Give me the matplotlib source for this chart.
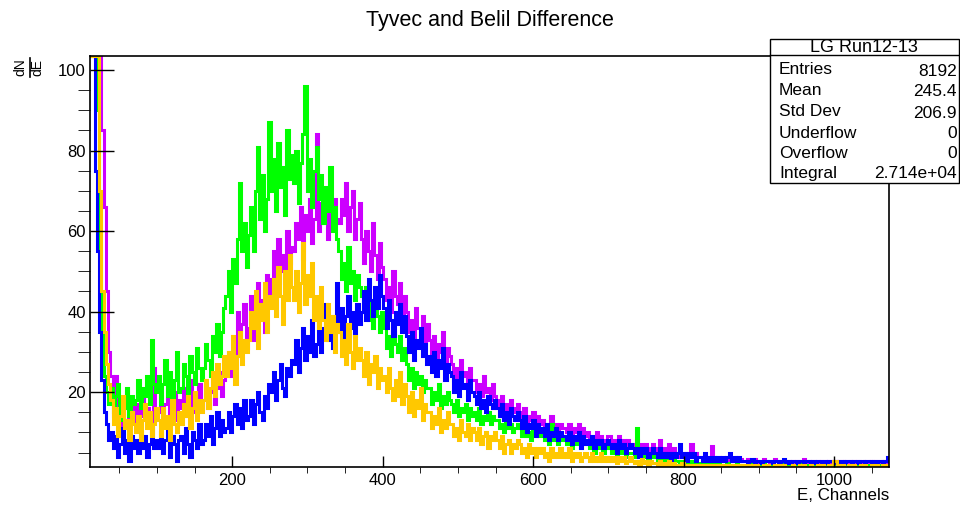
import numpy as np
import matplotlib
matplotlib.use('Agg')
import matplotlib.pyplot as plt
from matplotlib.patches import Rectangle
from matplotlib.lines import Line2D

plt.rcParams['font.family'] = ['Liberation Sans', 'DejaVu Sans']

# histogram binning (channels), 3 channels per bin starting at channel 11
bin_lo = 11
bin_width = 3

# counts per bin (one row = 30 channels)
violet = [170, 160, 150, 140, 120, 85, 66, 45, 30, 24,
          14, 24, 13, 17, 11, 16, 20, 12, 15, 18,
          12, 17, 14, 19, 13, 16, 15, 12, 26, 15,
          15, 19, 13, 17, 22, 14, 16, 20, 13, 18,
          16, 21, 14, 18, 23, 15, 19, 17, 22, 16,
          18, 22, 16, 20, 24, 17, 21, 25, 19, 23,
          26, 30, 24, 34, 29, 40, 33, 37, 42, 31,
          36, 44, 33, 41, 47, 38, 43, 35, 49, 42,
          48, 55, 46, 58, 50, 54, 47, 60, 52, 56,
          55, 62, 58, 66, 53, 64, 60, 68, 57, 63,
          84, 60, 67, 62, 70, 58, 65, 61, 68, 63,
          62, 68, 64, 72, 60, 66, 70, 58, 63, 67,
          58, 52, 60, 55, 50, 62, 54, 48, 57, 51,
          48, 43, 46, 40, 50, 44, 42, 47, 39, 44,
          40, 35, 38, 33, 41, 36, 34, 39, 32, 37,
          33, 29, 34, 28, 32, 30, 35, 27, 31, 29,
          27, 23, 26, 22, 28, 24, 25, 21, 26, 23,
          23, 20, 22, 19, 24, 20, 21, 18, 22, 19,
          18, 16, 19, 15, 17, 14, 18, 16, 15, 17,
          15, 13, 16, 12, 14, 13, 15, 11, 14, 12,
          13, 11, 12, 10, 14, 11, 12, 9, 12, 11,
          11, 10, 12, 9, 11, 10, 12, 8, 11, 9,
          10, 8, 9, 7, 10, 8, 9, 7, 8, 9,
          9, 7, 8, 6, 9, 7, 8, 6, 8, 7,
          7, 6, 8, 5, 7, 6, 7, 5, 6, 7,
          6, 5, 8, 5, 6, 5, 7, 4, 6, 5,
          5, 4, 5, 4, 5, 4, 7, 4, 5, 4,
          4, 3, 4, 3, 4, 6.5, 4, 3, 4, 3,
          3.5, 3, 4, 3, 3.5, 3, 4, 3, 3.5, 3,
          3, 3.5, 2.5, 3, 3.5, 3, 2.5, 3, 3.5, 3,
          3, 2.5, 3, 3.5, 3, 2.5, 3, 3, 2.5, 3,
          3, 3, 2.5, 3, 2.5, 3, 3.5, 2.5, 3, 3,
          2.5, 3, 3, 2.5, 3, 3, 2.5, 3, 2.5, 3,
          3, 2.5, 3, 2.5, 3, 3, 2.5, 3, 3, 2.5,
          3, 2.5, 2.5, 3, 3, 2.5, 3, 2.5, 3, 2.5,
          2.5, 3, 2.5, 3]

green = [160, 150, 130, 90, 55, 35, 24, 20, 17, 21,
         15, 19, 22, 13, 18, 16, 21, 14, 19, 17,
         18, 23, 16, 21, 19, 24, 17, 33, 22, 20,
         24, 17, 22, 28, 19, 25, 16, 23, 30, 20,
         21, 27, 24, 19, 29, 25, 22, 31, 26, 23,
         26, 32, 28, 24, 34, 30, 37, 29, 35, 41,
         44, 50, 40, 53, 47, 58, 72, 55, 62, 51,
         59, 66, 55, 70, 81, 63, 74, 60, 68, 87,
         70, 78, 65, 82, 71, 76, 64, 85, 73, 79,
         72, 80, 67, 77, 84, 96, 70, 78, 66, 75,
         81, 68, 74, 62, 71, 65, 76, 60, 66, 58,
         55, 48, 52, 45, 56, 47, 50, 43, 49, 46,
         44, 40, 46, 38, 43, 36, 41, 39, 35, 40,
         36, 31, 34, 29, 35, 32, 30, 34, 28, 31,
         27, 23, 26, 21, 25, 22, 24, 20, 23, 21,
         21, 17, 20, 18, 22, 16, 19, 17, 20, 18,
         17, 15, 18, 14, 16, 15, 17, 13, 16, 14,
         15, 13, 16, 12, 14, 13, 15, 12, 14, 13,
         13, 11, 12, 10, 13, 11, 12, 10, 11, 12,
         11, 9, 12, 9, 10, 8, 11, 9, 10, 9,
         10, 8, 9, 7, 12, 8, 9, 7, 8, 9,
         8, 7, 9, 6, 8, 7, 8, 6, 7, 8,
         7, 6, 7, 5, 8, 6, 7, 5, 6, 7,
         6, 5, 6, 4, 6, 5, 6, 4, 5, 5,
         5, 4, 11, 4, 5, 4, 5, 3, 4, 5,
         4, 3, 4, 3, 5, 3, 4, 3, 4, 3,
         3, 2.5, 3, 2, 3, 2.5, 3, 2, 3, 2.5,
         2.5, 2, 3, 2, 2.5, 2, 2.5, 2, 2.5, 2,
         2, 2, 2.5, 2, 2, 2, 2.5, 2, 2, 2,
         2, 2, 2, 2.5, 2, 2, 2, 2, 2.5, 2,
         2, 2, 2.5, 2, 2, 2, 2, 2.5, 2, 2,
         2, 2, 2, 2, 2.5, 2, 2, 2, 2, 2,
         2, 2, 2, 2, 2, 2, 2, 2, 2, 2,
         2, 2, 2, 2, 2, 2, 2, 2, 2, 2,
         2, 2, 2, 2, 2, 2, 2, 2, 2, 2,
         2, 2, 2, 2]

blue = [150, 140, 75, 55, 35, 23, 15, 12, 8, 10,
        6, 9, 4, 7, 11, 5, 8, 3, 9, 6,
        8, 5, 10, 6, 9, 4, 7, 11, 6, 8,
        6, 10, 5, 8, 11, 4, 9, 7, 3, 8,
        9, 5, 11, 7, 4, 10, 8, 6, 12, 7,
        8, 12, 9, 14, 7, 11, 15, 9, 13, 10,
        11, 15, 10, 14, 17, 12, 16, 11, 18, 13,
        14, 18, 12, 17, 20, 15, 13, 19, 16, 22,
        20, 25, 18, 23, 27, 21, 19, 26, 24, 28,
        27, 33, 25, 31, 36, 28, 34, 30, 38, 29,
        32, 38, 30, 36, 42, 33, 39, 31, 37, 47,
        35, 41, 33, 39, 44, 36, 40, 34, 42, 37,
        40, 45, 38, 48, 43, 39, 46, 41, 49, 44,
        41, 36, 43, 38, 34, 40, 37, 42, 35, 39,
        34, 30, 35, 28, 33, 31, 36, 29, 32, 27,
        29, 25, 30, 24, 28, 26, 31, 23, 27, 25,
        24, 20, 23, 19, 25, 21, 22, 18, 23, 20,
        19, 17, 20, 16, 18, 15, 19, 17, 16, 18,
        16, 14, 17, 13, 15, 12, 16, 14, 13, 15,
        13, 11, 14, 10, 12, 11, 13, 9, 12, 10,
        11, 9, 12, 8, 10, 9, 11, 8, 10, 9,
        9, 8, 10, 7, 9, 8, 10, 6, 9, 7,
        8, 7, 9, 6, 8, 7, 8, 6, 7, 8,
        7, 6, 7, 5, 8, 6, 7, 5, 6, 7,
        6, 5, 6, 4, 6, 5, 6, 4, 5, 6,
        5, 4, 6, 4, 5, 4, 5, 3, 5, 4,
        5, 7, 4, 5, 3, 5, 4, 5, 3, 4,
        4, 3, 5, 3, 4, 3, 4, 3, 4, 3,
        4, 3, 4, 5, 3, 4, 3, 4, 3, 3,
        3, 2.5, 3, 3.5, 2.5, 3, 3, 2.5, 3, 3,
        3, 3, 2.5, 3, 3, 2.5, 3, 3.5, 2.5, 3,
        2.5, 3, 3, 2.5, 3, 3, 2.5, 3, 3, 2.5,
        3, 2.5, 3, 3, 2.5, 3, 2.5, 3, 3, 2.5,
        3, 3, 2.5, 3, 2.5, 3, 3, 2.5, 3, 3,
        2.5, 3, 3, 2.5, 3, 3, 2.5, 3, 2.5, 3,
        3, 2.5, 3, 4]

orange = [170, 160, 150, 110, 70, 45, 35, 27, 22, 18,
          12, 16, 9, 14, 19, 11, 13, 8, 15, 12,
          10, 14, 8, 13, 17, 11, 15, 9, 12, 16,
          13, 9, 16, 11, 14, 8, 18, 12, 10, 15,
          12, 17, 14, 19, 11, 16, 20, 13, 18, 15,
          18, 23, 16, 21, 25, 19, 27, 22, 24, 29,
          24, 30, 26, 34, 22, 29, 35, 27, 33, 30,
          33, 40, 36, 45, 31, 42, 38, 47, 35, 44,
          41, 48, 39, 51, 44, 37, 50, 43, 54, 46,
          43, 50, 40, 47, 57, 42, 49, 44, 52, 38,
          44, 36, 46, 38, 33, 42, 35, 39, 30, 37,
          35, 29, 33, 27, 37, 30, 26, 34, 28, 31,
          28, 24, 30, 22, 27, 25, 29, 21, 26, 23,
          24, 20, 26, 21, 18, 23, 19, 25, 17, 22,
          19, 15, 20, 14, 18, 16, 21, 13, 17, 15,
          15, 11, 14, 12, 16, 10, 13, 11, 15, 12,
          12, 9, 11, 8, 13, 10, 9, 12, 8, 11,
          10, 8, 11, 7, 9, 10, 6, 9, 8, 10,
          8, 6, 9, 5, 7, 8, 5, 7, 6, 8,
          7, 5, 6, 4, 7, 5, 6, 4, 6, 5,
          6, 4, 5, 3, 6, 4, 5, 4, 6, 4,
          5, 4, 6, 3, 5, 4, 5, 3, 4, 5,
          4, 3, 5, 3, 4, 3, 5, 3, 4, 3,
          4, 3, 4, 2.5, 4, 3, 4, 2.5, 3, 4,
          3, 2.5, 3, 2, 3.5, 2.5, 3, 2, 3, 2.5,
          2.5, 2, 3, 2, 2.5, 2, 3, 2, 2.5, 2,
          2, 1.5, 2.5, 2, 2, 1.5, 2, 2, 1.5, 2,
          2, 1.5, 2, 1.5, 2, 2, 1.5, 2, 1.5, 2,
          2, 1.5, 2, 1.5, 2, 1.5, 2, 2, 1.5, 2,
          1.5, 2, 1.5, 2, 1.5, 2, 1.5, 1.5, 2, 1.5,
          2, 1.5, 1.5, 2, 1.5, 2, 1.5, 2, 1.5, 1.5,
          1.5, 2, 1.5, 1.5, 2, 1.5, 2, 1.5, 1.5, 2,
          1.5, 1.5, 2, 1.5, 2, 1.5, 1.5, 2, 1.5, 3,
          3, 2, 1.5, 2, 1.5, 1.5, 2, 1.5, 2, 1.5,
          1.5, 2, 1.5, 2, 1.5, 1.5, 2, 1.5, 2, 1.5,
          1.5, 2, 1.5, 2]

stat_names = ['Entries', 'Mean', 'Std Dev', 'Underflow', 'Overflow', 'Integral']
stat_values = ['8192', '245.4', '206.9', '0', '0', '2.714e+04']

x_min, x_max = 11, 1073
y_min, y_max = 1.4, 103.5

fig = plt.figure(figsize=(9.6, 5.05), dpi=100)
ax = fig.add_axes([90/960, 38/505, 799/960, 411/505])

edges = bin_lo + bin_width*np.arange(len(violet) + 1)
series = [(violet, '#cc00ff'), (green, '#00ff00'), (blue, '#0000ff'), (orange, '#ffc800')]
for vals, col in series:
    v = np.minimum(np.array(vals, dtype=float), y_max)
    ax.stairs(v, edges, color=col, lw=2.2, baseline=None)

ax.set_xlim(x_min, x_max)
ax.set_ylim(y_min, y_max)
ax.set_xticks([200, 400, 600, 800, 1000])
ax.set_xticks(np.arange(50, 1073, 50), minor=True)
ax.set_yticks([20, 40, 60, 80, 100])
ax.set_yticks(np.arange(5, 103, 5), minor=True)
ax.tick_params(axis='both', direction='in', labelsize=12, width=1, colors='black')
ax.tick_params(axis='x', which='major', length=8, pad=4.5)
ax.tick_params(axis='x', which='minor', length=4)
ax.tick_params(axis='y', which='major', length=17, pad=3)
ax.tick_params(axis='y', which='minor', length=9)
for s in ax.spines.values():
    s.set_linewidth(1.2)

fig.text(489.5/960, 1 - 26/505, 'Tyvec and Belil Difference', ha='center',
         va='baseline', fontsize=15.5)
fig.text(889/960, 1 - 500/505, 'E, Channels', ha='right', va='baseline', fontsize=12.2)

# rotated dN/dE fraction as y title
fig.text(20/960, 1 - 67.5/505, 'dN', rotation=90, ha='center', va='center', fontsize=10)
fig.text(37.5/960, 1 - 67.5/505, 'dE', rotation=90, ha='center', va='center', fontsize=10)
fig.add_artist(Line2D([29.5/960, 29.5/960], [1 - 58/505, 1 - 77/505],
                      transform=fig.transFigure, color='black', lw=1.2))

# stats box
bx0, bx1, by0, by1 = 770/960, 958.5/960, 1 - 183/505, 1 - 39/505
fig.add_artist(Rectangle((bx0, by0), bx1 - bx0, by1 - by0, transform=fig.transFigure,
                         facecolor='white', edgecolor='black', lw=1, zorder=5))
fig.add_artist(Line2D([bx0, bx1], [1 - 55/505, 1 - 55/505], transform=fig.transFigure,
                      color='black', lw=1, zorder=6))
fig.text((bx0 + bx1)/2, 1 - 47.5/505, 'LG Run12-13', ha='center', va='center',
         fontsize=13, zorder=7)
row_y = [70, 91, 112, 133, 153, 173]
for name, val, yy in zip(stat_names, stat_values, row_y):
    fig.text(779/960, 1 - yy/505, name, ha='left', va='center', fontsize=12.5, zorder=7)
    fig.text(957/960, 1 - (yy + 1)/505, val, ha='right', va='center', fontsize=12.5, zorder=7)

fig.savefig('out.png', dpi=100)
